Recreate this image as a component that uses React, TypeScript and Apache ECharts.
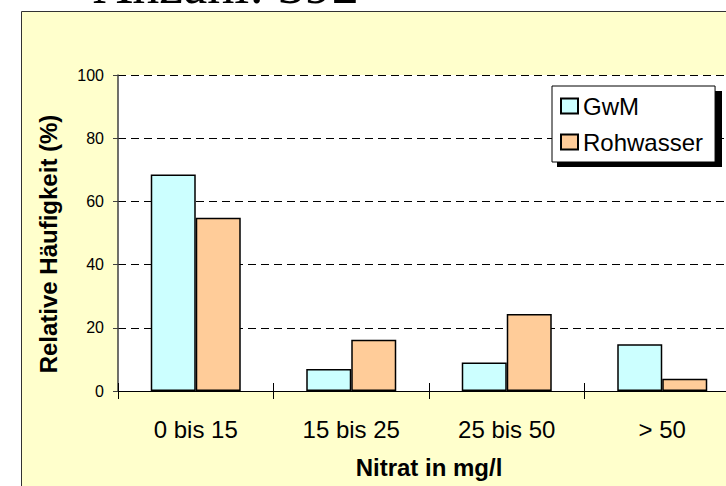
import React, { useEffect, useRef } from "react";
import * as echarts from "echarts";

const categories = ["0 bis 15", "15 bis 25", "25 bis 50", "> 50"];
const gwm = [68.5, 7.0, 9.0, 14.8];
const rohwasser = [54.8, 16.2, 24.4, 3.9];
const yTicks = [0, 20, 40, 60, 80, 100];
const seriesNames = ["GwM", "Rohwasser"];
const titleText = "Anzahl: 392";
const xTitle = "Nitrat in mg/l";
const yTitle = "Relative Häufigkeit (%)";

const SANS = "'Liberation Sans', Arial, sans-serif";
const SERIF = "'Liberation Serif', 'Times New Roman', serif";

export default function App() {
  const ref = useRef<HTMLDivElement>(null);
  useEffect(() => {
    if (!ref.current) return;
    const chart = echarts.init(ref.current, null, { renderer: "svg" });
    chart.setOption({
      animation: false,
      backgroundColor: "#ffffff",
      textStyle: { fontFamily: SANS },
      grid: {
        left: 118,
        top: 75,
        width: 622,
        height: 316,
        show: true,
        backgroundColor: "#ffffff",
        borderWidth: 0,
        containLabel: false,
        outerBoundsMode: "none",
      },
      legend: {
        orient: "vertical",
        left: 552,
        top: 86,
        padding: [8, 12, 8, 8],
        itemWidth: 17,
        itemHeight: 15,
        itemGap: 12,
        backgroundColor: "#ffffff",
        borderColor: "#000000",
        borderWidth: 1,
        icon: "rect",
        data: seriesNames,
        textStyle: { fontSize: 24, color: "#000", fontFamily: SANS },
        z: 10,
      },
      graphic: [
        {
          type: "rect",
          z: -1,
          shape: { x: 21.5, y: 11.5, width: 760, height: 520 },
          style: { fill: "#FFFFCC", stroke: "#333333", lineWidth: 1 },
          silent: true,
        },
        {
          type: "rect",
          z: 9,
          shape: { x: 557, y: 91, width: 165, height: 76 },
          style: { fill: "#000000" },
          silent: true,
        },
        {
          type: "text",
          x: 226,
          y: -15,
          style: {
            text: titleText,
            font: `54px ${SERIF}`,
            fill: "#000",
            textAlign: "center",
            textVerticalAlign: "middle",
          },
        },
        {
          type: "text",
          x: 429,
          y: 467,
          style: {
            text: xTitle,
            font: `bold 24px ${SANS}`,
            fill: "#000",
            textAlign: "center",
            textVerticalAlign: "middle",
          },
        },
        {
          type: "text",
          x: 48,
          y: 244,
          rotation: Math.PI / 2,
          style: {
            text: yTitle,
            font: `bold 24px ${SANS}`,
            fill: "#000",
            textAlign: "center",
            textVerticalAlign: "middle",
          },
        },
      ],
      xAxis: [
        {
          type: "category",
          data: categories,
          position: "bottom",
          axisLine: { show: true, lineStyle: { color: "#000", width: 1 } },
          axisTick: { show: true, inside: false, length: 8, lineStyle: { color: "#000" } },
          axisLabel: { fontSize: 24, color: "#000", margin: 26, fontFamily: SANS, interval: 0 },
          splitLine: { show: false },
        },
        {
          type: "category",
          data: categories,
          position: "bottom",
          axisLine: { show: false },
          axisTick: { show: true, inside: true, length: 8, lineStyle: { color: "#000" } },
          axisLabel: { show: false },
          splitLine: { show: false },
        },
      ],
      yAxis: {
        type: "value",
        min: yTicks[0],
        max: yTicks[yTicks.length - 1],
        interval: 20,
        axisLine: { show: true, lineStyle: { color: "#404040", width: 1.5 } },
        axisTick: { show: true, inside: false, length: 5, lineStyle: { color: "#404040" } },
        axisLabel: { fontSize: 16, color: "#000", margin: 14, fontFamily: SANS },
        splitLine: { show: true, lineStyle: { color: "#000", type: [8, 5], width: 1 } },
      },
      series: [
        {
          name: seriesNames[0],
          type: "bar",
          xAxisIndex: 0,
          data: gwm,
          barWidth: 45,
          barGap: "0%",
          itemStyle: { color: "#CCFFFF", borderColor: "#000", borderWidth: 1.5 },
        },
        {
          name: seriesNames[1],
          type: "bar",
          xAxisIndex: 0,
          data: rohwasser,
          barWidth: 45,
          barGap: "0%",
          itemStyle: { color: "#FFCC99", borderColor: "#000", borderWidth: 1.5 },
        },
      ],
    });
    return () => chart.dispose();
  }, []);
  return (
    <div
      ref={ref}
      style={{ position: "absolute", left: 0, top: 0, width: 726, height: 486 }}
    />
  );
}
